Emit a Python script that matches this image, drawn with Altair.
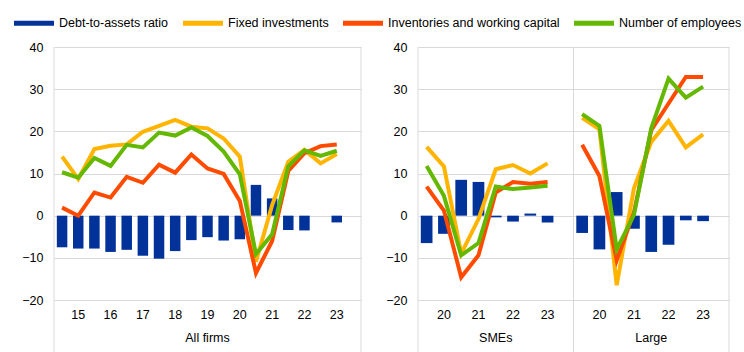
import altair as alt
import pandas as pd

# ---------------- data ----------------
series = ["Debt-to-assets ratio", "Fixed investments",
          "Inventories and working capital", "Number of employees"]
colors = ["#003299", "#ffb400", "#ff4b00", "#65b800"]

# All firms: half-year survey rounds
periods_all = ["14H2", "15H1", "15H2", "16H1", "16H2", "17H1", "17H2", "18H1", "18H2",
               "19H1", "19H2", "20H1", "20H2", "21H1", "21H2", "22H1", "22H2", "23H1"]
debt_all = [-7.5, -7.8, -7.8, -8.6, -8.1, -9.5, -10.2, -8.4, -5.8,
            -5.1, -5.9, -5.6, 7.3, 4.1, -3.4, -3.5, None, -1.6]
fixed_all = [14.0, 8.7, 15.8, 16.6, 16.9, 19.9, 21.3, 22.7, 21.1,
             20.7, 18.3, 14.0, -10.9, 2.5, 12.8, 15.6, 12.4, 14.6]
invent_all = [1.9, 0.0, 5.5, 4.3, 9.2, 7.8, 12.1, 10.2, 14.5,
              11.2, 9.9, 3.5, -13.6, -6.0, 10.6, 14.8, 16.5, 16.9]
employ_all = [10.3, 9.0, 13.7, 11.8, 16.8, 16.2, 19.7, 19.0, 20.9,
              18.9, 15.2, 9.8, -9.1, -4.4, 11.7, 15.5, 14.2, 15.4]

# SMEs and large firms
periods_sub = ["19H2", "20H1", "20H2", "21H1", "21H2", "22H1", "22H2", "23H1"]
debt_sme = [-6.5, -4.3, 8.5, 8.0, -0.4, -1.4, 0.5, -1.6]
fixed_sme = [16.3, 11.7, -9.0, -0.8, 11.0, 12.0, 10.0, 12.4]
invent_sme = [6.9, 1.2, -14.6, -9.4, 5.5, 8.0, 7.6, 8.0]
employ_sme = [11.8, 4.7, -9.4, -6.5, 6.9, 6.3, 6.7, 7.1]

debt_large = [-4.1, -8.0, 5.6, -3.1, -8.6, -6.9, -1.1, -1.3]
fixed_large = [23.2, 20.5, -16.5, 6.5, 17.5, 22.5, 16.2, 19.3]
invent_large = [16.8, 9.4, -10.6, 0.8, 20.3, 26.6, 32.9, 32.9]
employ_large = [24.1, 21.3, -8.0, 0.2, 20.7, 32.5, 28.0, 30.6]

groups = ["All firms", "SMEs", "Large"]
y_ticks = [-20, -10, 0, 10, 20, 30, 40]

# ---------------- tables ----------------
def rows_for(group, keys, value_lists):
    out = []
    for s, vals in zip(series, value_lists):
        for k, v in zip(keys, vals):
            out.append({"slot": k, "series": s, "value": v, "group": group})
    return out

left_keys = periods_all
left_domain = left_keys + ["pad"]
left_df = pd.DataFrame(rows_for(groups[0], left_keys,
                                [debt_all, fixed_all, invent_all, employ_all]))

sme_keys = [f"{groups[1]} {p}" for p in periods_sub]
large_keys = [f"{groups[2]} {p}" for p in periods_sub]
right_domain = sme_keys + ["gap1"] + large_keys + ["gap2"]
right_df = pd.DataFrame(
    rows_for(groups[1], sme_keys, [debt_sme, fixed_sme, invent_sme, employ_sme])
    + rows_for(groups[2], large_keys, [debt_large, fixed_large, invent_large, employ_large]))

left_labels = pd.DataFrame({"slot": [left_keys[9]], "label": [groups[0]]})
right_labels = pd.DataFrame({"slot": [sme_keys[4], large_keys[4]], "label": groups[1:]})

FONT = "Liberation Sans"
FS = 12.5
GRID = "#d9d9d9"
H = 253

fill_scale = alt.Scale(domain=series, range=colors)
stroke_scale = alt.Scale(domain=series, range=colors)

legend = alt.Legend(
    orient="none", legendX=-40, legendY=-44, direction="horizontal", columns=4,
    title=None, symbolType="M-1,-0.125L1,-0.125L1,0.125L-1,0.125Z", symbolSize=1600,
    symbolStrokeWidth=0, labelFont=FONT, labelFontSize=FS, labelColor="#000000",
    labelLimit=400, labelOffset=5, columnPadding=14, padding=0,
)


def panel(df, domain, labels_df, width, bar_size, dividers):
    xscale = alt.Scale(domain=domain, paddingInner=0, paddingOuter=0)
    xaxis = alt.Axis(
        title=None, labelAngle=0, ticks=False, domain=False, grid=False,
        labelPadding=8, labelFont=FONT, labelFontSize=FS, labelColor="#000000",
        labelExpr="indexof(datum.value, 'H1') >= 0 ? slice(datum.value, -4, -2) : ''",
    )
    x = alt.X("slot:N", scale=xscale, axis=xaxis, sort=domain)
    y = alt.Y("value:Q", stack=None,
              scale=alt.Scale(domain=[-20, 40], nice=False, zero=False),
              axis=alt.Axis(title=None, values=y_ticks, grid=True, gridColor=GRID,
                            gridWidth=1, ticks=False, domain=False, labelPadding=11,
                            labelFont=FONT, labelFontSize=FS, labelColor="#000000"))
    base = alt.Chart(df)
    bars = base.transform_filter(alt.datum.series == series[0]).mark_bar(
        size=bar_size).encode(
        x=x, y=y, fill=alt.Fill("series:N", scale=fill_scale, legend=legend))
    lines = base.transform_filter(alt.datum.series != series[0]).mark_line(
        strokeWidth=4).encode(
        x=x, y=y,
        stroke=alt.Stroke("series:N", scale=stroke_scale, legend=None),
        detail="group:N")
    texts = alt.Chart(labels_df).mark_text(
        font=FONT, fontSize=FS, color="#000000", baseline="middle").encode(
        x=x, text="label:N", y=alt.value(H + 38))
    rule_df = pd.DataFrame({"k": [0]})
    layers = [bars, lines, texts]
    for px in dividers:
        layers.append(alt.Chart(rule_df).mark_rule(color=GRID, strokeWidth=1).encode(
            x=alt.value(px), y=alt.value(0), y2=alt.value(H + 52)))
    return alt.layer(*layers).properties(width=width, height=H)


W_LEFT = 307
W_RIGHT = 311
left = panel(left_df, left_domain, left_labels, W_LEFT, 10.5, [0, W_LEFT])
right = panel(right_df, right_domain, right_labels, W_RIGHT, 11.7,
              [0, W_RIGHT / 2, W_RIGHT])

chart = alt.hconcat(left, right, spacing=23).properties(
    padding={"left": 14, "top": 3, "right": 0, "bottom": 0},
    background="#ffffff",
).configure_view(stroke=None)

chart.save("out.html", embed_options={"renderer": "svg", "actions": False})
